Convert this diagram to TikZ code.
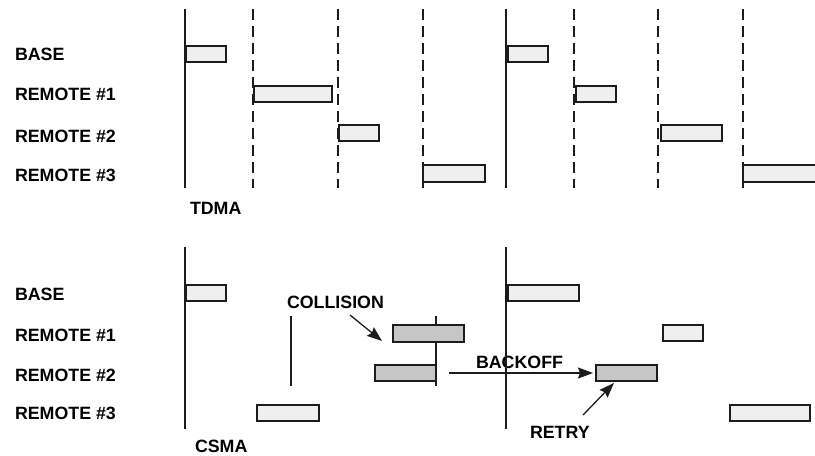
\documentclass[tikz,border=0pt]{standalone}
\usepackage{fontspec}
\setmainfont{Liberation Sans}
\usetikzlibrary{arrows.meta}
\definecolor{slotfill}{HTML}{EFEFEF}
\definecolor{hitfill}{HTML}{C6C6C6}
\definecolor{ink}{HTML}{1C1C1C}
% \slotbox[style]{name}{left}{top}{width}{height}
\newcommand{\slotbox}[6][slot]{%
  \node[#1, minimum width=#5bp, minimum height=#6bp] (#2) at (#3,#4) {};}
\begin{document}
\begin{tikzpicture}[x=1bp, y=-1bp,
  lbl/.style={font=\fontsize{17.8bp}{20bp}\selectfont\bfseries, text=black,
              anchor=base west, inner sep=0pt, outer sep=0pt},
  slot/.style={draw=ink, line width=1.5bp, fill=slotfill, inner sep=0pt,
               outer sep=0pt, anchor=north west},
  hit/.style={slot, fill=hitfill},
  frame/.style={draw=ink, line width=1.4bp},
  tick/.style={frame, dash pattern=on 11bp off 6bp},
  pointer/.style={draw=ink, line width=1.3bp,
                  -{Stealth[length=15bp, width=11bp, inset=2bp]}}]
\useasboundingbox (0,0) rectangle (815,456);
\clip (0,0) rectangle (815,456);

% ---------------- TDMA ----------------
\node[lbl] (tBase) at (15,61)    {BASE};
\node[lbl] (tR1)   at (15,100.5) {REMOTE \#1};
\node[lbl] (tR2)   at (15,142.5) {REMOTE \#2};
\node[lbl] (tR3)   at (15,182)   {REMOTE \#3};
\node[lbl] (tdma)  at (190,215)  {TDMA};

% frame boundaries and slot boundaries
\foreach \x in {185,506} \draw[frame] (\x,9) -- (\x,188);
\foreach \x in {253,338,423,574,658,743} \draw[tick] (\x,9) -- (\x,188);

\slotbox{tb1}{186}{46}{40}{16}
\slotbox{tr1a}{254}{86}{78}{16}
\slotbox{tr2a}{339}{125}{40}{16}
\slotbox{tr3a}{423}{165}{62}{17}
\slotbox{tb2}{508}{46}{40}{16}
\slotbox{tr1b}{576}{86}{40}{16}
\slotbox{tr2b}{661}{125}{61}{16}
\slotbox{tr3b}{743}{165}{90}{17}

% ---------------- CSMA ----------------
\node[lbl] (cBase) at (15,301)   {BASE};
\node[lbl] (cR1)   at (15,341.5) {REMOTE \#1};
\node[lbl] (cR2)   at (15,381.5) {REMOTE \#2};
\node[lbl] (cR3)   at (15,419)   {REMOTE \#3};
\node[lbl] (csma)  at (195,452)  {CSMA};
\node[lbl] (coll)  at (287,309)  {COLLISION};
\node[lbl] (back)  at (476,369)  {BACKOFF};
\node[lbl] (retry) at (530,438)  {RETRY};

\foreach \x in {185,506} \draw[frame] (\x,247) -- (\x,429);
\draw[frame] (291,316) -- (291,386);
\draw[frame] (436,316) -- (436,386);

\slotbox{cb1}{186}{285}{40}{16}
\slotbox[hit]{cr1}{393}{325}{71}{17}
\slotbox[hit]{cr2}{375}{365}{61}{16}
\slotbox{cr3}{257}{405}{62}{16}
\slotbox{cb2}{508}{285}{71}{16}
\slotbox{cr1b}{663}{325}{40}{16}
\slotbox[hit]{cr2b}{596}{365}{61}{16}
\slotbox{cr3b}{730}{405}{80}{16}

% pointers
\coordinate (collFrom) at (350,315);
\coordinate (collTo)   at (382,341);
\coordinate (backFrom) at (449,373);
\coordinate (backTo)   at (593,373);
\coordinate (retFrom)  at (583,415);
\coordinate (retTo)    at (614,383);
\draw[pointer] (collFrom) -- (collTo);
\draw[pointer] (backFrom) -- (backTo);
\draw[pointer] (retFrom) -- (retTo);
\end{tikzpicture}
\end{document}
